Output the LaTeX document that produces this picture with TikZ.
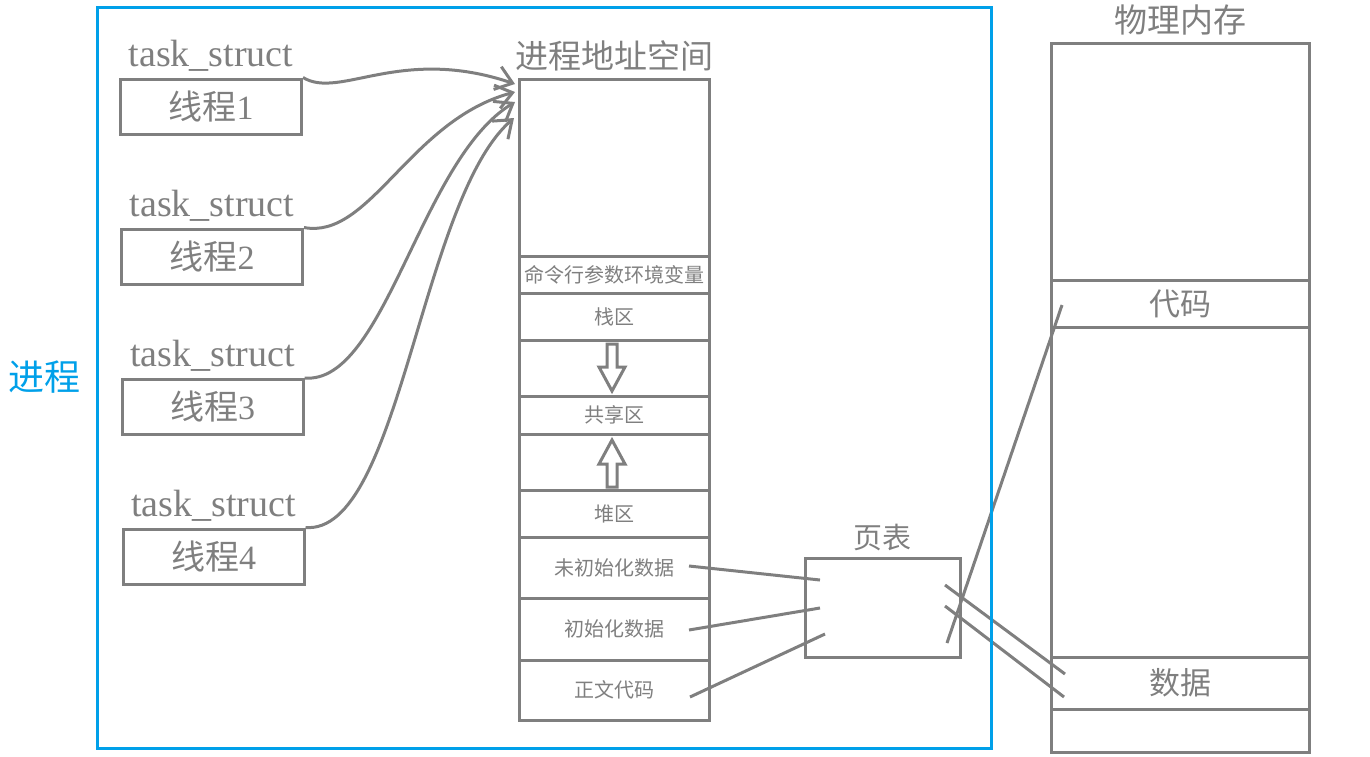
\documentclass[tikz,border=0pt]{standalone}
\usepackage{fontspec}
\setmainfont{Liberation Serif}
\newfontfamily\cjk{Noto Sans CJK SC}
\usetikzlibrary{arrows.meta,positioning}
\definecolor{linegray}{HTML}{7F7F7F}
\definecolor{procblue}{HTML}{00A0E9}

\tikzset{
  box/.style={draw=linegray, line width=1.5pt, inner sep=0pt, text=linegray},
  thread/.style={box, minimum width=90.5pt, minimum height=27.5pt, font=\fontsize{17}{17}\selectfont},
  cell/.style={box, minimum width=95pt, font=\cjk\fontsize{10}{10}\selectfont},
  memcell/.style={box, minimum width=129pt, font=\cjk\fontsize{15.5}{16}\selectfont},
  title/.style={text=linegray, inner sep=0pt, font=\cjk\fontsize{16.5}{17}\selectfont},
  tslabel/.style={text=linegray, inner sep=0pt, font=\fontsize{19}{19}\selectfont},
  wire/.style={draw=linegray, line width=1.5pt},
}

\begin{document}
\begin{tikzpicture}[x=0.5pt, y=-0.5pt]
  \useasboundingbox (0,0) rectangle (1370,756);
  % threads
  \foreach \k/\xc/\yc in {1/211/106.5, 2/212/256.5, 3/212.5/407, 4/213.5/556.5}{
    \node[thread] (t\k) at (\xc,\yc) {{\cjk 线程}\k};
    \node[tslabel, above=3pt of t\k] (ts\k) {task\_struct};
  }
  % process address space
  \foreach \ya/\yb/\nm/\lb in {79/256/sp0/{}, 256/293/env/命令行参数环境变量,
      293/340/stack/栈区, 340/396/gap1/{}, 396/434/share/共享区, 434/490/gap2/{},
      490/537/heap/堆区, 537/598/bss/未初始化数据, 598/660/data/初始化数据,
      660/720/text/正文代码}{
    \node[cell, minimum height={(\yb-\ya)*0.5pt}] (\nm) at (614,{(\ya+\yb)/2}) {\lb};
  }
  \node[title, above=3pt of sp0] (astitle) {进程地址空间};
  % growth arrows
  \draw[wire] (607,344) -- (617,344) -- (617,367) -- (625,367) -- (612,391)
    -- (599,367) -- (607,367) -- cycle;
  \draw[wire] (607,487) -- (617,487) -- (617,464) -- (625,464) -- (612,440)
    -- (599,464) -- (607,464) -- cycle;
  % page table
  \node[box, minimum width=77.5pt, minimum height=49.5pt] (pt) at (882.5,607.5) {};
  \node[title, font=\cjk\fontsize{14.5}{15}\selectfont, above=2.5pt of pt] (pttitle) {页表};
  % physical memory
  \foreach \ya/\yb/\nm/\lb in {43/280/m0/{}, 280/327/code/代码, 327/657/m1/{},
      657/709/mdata/数据, 709/752/m2/{}}{
    \node[memcell, minimum height={(\yb-\ya)*0.5pt}] (\nm) at (1180,{(\ya+\yb)/2}) {\lb};
  }
  \node[title, above=3pt of m0] (memtitle) {物理内存};
  % thread -> address space
  \coordinate (a1) at (515,84);
  \coordinate (a2) at (515,92);
  \coordinate (a3) at (515,102);
  \coordinate (a4) at (514,118);
  \draw[wire, -{Straight Barb[length=8pt, width=12pt]}] (t1.north east)
    .. controls (340,100) and (400,45) .. (a1);
  \draw[wire, -{Straight Barb[length=8pt, width=12pt]}] (t2.north east)
    .. controls (370,240) and (410,120) .. (a2);
  \draw[wire, -{Straight Barb[length=8pt, width=12pt]}] (t3.north east)
    .. controls (385,385) and (420,160) .. (a3);
  \draw[wire, -{Straight Barb[length=8pt, width=12pt]}] (t4.north east)
    .. controls (400,535) and (420,200) .. (a4);
  % address space -> page table -> memory
  \coordinate (s1) at (689,566);  \coordinate (p1) at (820,580);
  \coordinate (s2) at (689,630);  \coordinate (p2) at (820,608);
  \coordinate (s3) at (690,697);  \coordinate (p3) at (825,634);
  \coordinate (p4) at (945,585);  \coordinate (r1) at (1065,674);
  \coordinate (p5) at (945,606);  \coordinate (r2) at (1064,697);
  \coordinate (p6) at (947,643);  \coordinate (r3) at (1062,305);
  \draw[wire] (s1) -- (p1);
  \draw[wire] (s2) -- (p2);
  \draw[wire] (s3) -- (p3);
  \draw[wire] (p4) -- (r1);
  \draw[wire] (p5) -- (r2);
  \draw[wire] (p6) -- (r3);
  % process frame
  \node[draw=procblue, line width=1.5pt, minimum width=447pt, minimum height=370.5pt,
    inner sep=0pt] (proc) at (544,377.5) {};
  \node[text=procblue, inner sep=0pt, font=\cjk\fontsize{18}{18}\selectfont,
    left=7.5pt of proc] (proclabel) {进程};
\end{tikzpicture}
\end{document}
